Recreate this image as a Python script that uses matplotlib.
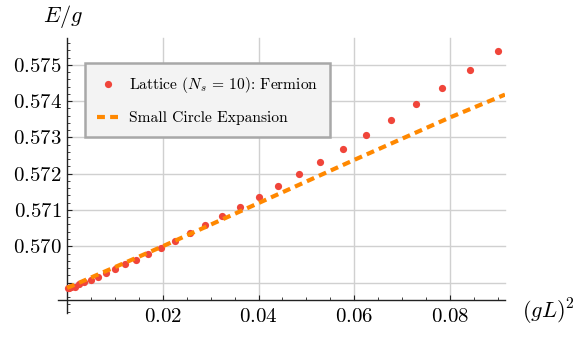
import matplotlib
matplotlib.use("Agg")
import matplotlib.pyplot as plt
from matplotlib.ticker import FixedLocator, MultipleLocator, FuncFormatter
from matplotlib.lines import Line2D

plt.rcParams['mathtext.fontset'] = 'cm'
plt.rcParams['font.family'] = ['cmr10', 'DejaVu Serif']
plt.rcParams['axes.formatter.use_mathtext'] = True

# Lattice data (N_s = 10), x = (gL)^2
lattice_x = [0.0001, 0.0004, 0.0009, 0.0016, 0.0025, 0.0036, 0.0049, 0.0064,
             0.0081, 0.0100, 0.0121, 0.0144, 0.0169, 0.0196, 0.0225, 0.0256,
             0.0289, 0.0324, 0.0361, 0.0400, 0.0441, 0.0484, 0.0529, 0.0576,
             0.0625, 0.0676, 0.0729, 0.0784, 0.0841, 0.0900]
lattice_y = [0.56884, 0.56885, 0.56887, 0.56889, 0.56895, 0.56901, 0.56908, 0.56916,
             0.56925, 0.56938, 0.56950, 0.56963, 0.56979, 0.56996, 0.57015, 0.57036,
             0.57058, 0.57082, 0.57108, 0.57136, 0.57166, 0.57198, 0.57232, 0.57269,
             0.57307, 0.57348, 0.57391, 0.57437, 0.57485, 0.57537]

# Small circle expansion
expansion_x = [0.0, 0.02, 0.04, 0.06, 0.08, 0.0915]
expansion_y = [0.56885, 0.57000, 0.57119, 0.57238, 0.57355, 0.57418]

xticks = [0.02, 0.04, 0.06, 0.08]
yticks = [0.569, 0.570, 0.571, 0.572, 0.573, 0.574, 0.575]
ylabels_shown = [0.570, 0.571, 0.572, 0.573, 0.574, 0.575]

legend_labels = [r'Lattice ($N_s$ = 10): Fermion', 'Small Circle Expansion']

W, H = 579, 338
fig = plt.figure(figsize=(W / 100, H / 100), dpi=100)
ax = fig.add_axes([58 / W, 25 / H, 447 / W, 275 / H])
xmin, xmax = -0.0019, 0.0915
ymin, ymax = 0.56816, 0.57574
x_axis_y = 0.56852
ax.set_xlim(xmin, xmax)
ax.set_ylim(ymin, ymax)
ax.patch.set_alpha(0)

grid_c = '#d0d0d0'
for yv in yticks:
    ax.plot([0, xmax], [yv, yv], color=grid_c, lw=1.0, zorder=0.5, clip_on=False)
for xv in xticks:
    ax.plot([xv, xv], [x_axis_y, ymax], color=grid_c, lw=1.0, zorder=0.5, clip_on=False)

ax.spines['top'].set_visible(False)
ax.spines['right'].set_visible(False)
ax.spines['left'].set_position(('data', 0.0))
ax.spines['bottom'].set_position(('data', x_axis_y))
for s in ('left', 'bottom'):
    ax.spines[s].set_linewidth(1.0)
    ax.spines[s].set_color('#222222')

ax.xaxis.set_major_locator(FixedLocator(xticks))
ax.xaxis.set_minor_locator(MultipleLocator(0.005))
ax.yaxis.set_major_locator(FixedLocator(yticks))
ax.yaxis.set_minor_locator(MultipleLocator(0.0002))
ax.xaxis.set_major_formatter(FuncFormatter(lambda v, p: f'${v:.2f}$'))
ax.yaxis.set_major_formatter(FuncFormatter(
    lambda v, p: f'${v:.3f}$' if any(abs(v - t) < 1e-7 for t in ylabels_shown) else ''))
ax.tick_params(axis='both', which='major', direction='in', length=3.5, width=0.8,
               labelsize=15, color='#222222')
ax.tick_params(axis='both', which='minor', direction='in', length=2.2, width=0.6,
               color='#222222')
ax.tick_params(axis='x', which='major', pad=6)
ax.tick_params(axis='y', which='major', pad=4)

ax.plot(lattice_x, lattice_y, 'o', color='#f0453a', ms=5.2, mec='none', zorder=3,
        clip_on=False)
ax.plot(expansion_x, expansion_y, color='#ff8800', lw=3.0, dashes=(1.9, 1.25),
        dash_capstyle='butt', zorder=4)

fig.text(63 / W, 1 - 16 / H, r'$E/g$', ha='center', va='center', fontsize=16)
fig.text(548 / W, 1 - 312 / H, r'$(gL)^2$', ha='center', va='center', fontsize=16)

handles = [Line2D([], [], ls='none', marker='o', color='#f0453a', ms=5.2, mec='none'),
           Line2D([], [], color='#ff8800', lw=3.0, dashes=(1.9, 1.25),
                  dash_capstyle='butt')]
leg = ax.legend(handles, legend_labels, loc='upper left',
                bbox_to_anchor=(85 / W, 1 - 63 / H), bbox_transform=fig.transFigure,
                fontsize=11.2, frameon=True, fancybox=False, framealpha=1,
                facecolor='#f3f3f3', edgecolor='#a8a8a8', borderpad=0.8,
                labelspacing=1.0, handlelength=1.3, handletextpad=0.7,
                borderaxespad=0)
leg.get_frame().set_linewidth(1.8)
leg.set_zorder(5)

fig.savefig('out.png', dpi=100)
